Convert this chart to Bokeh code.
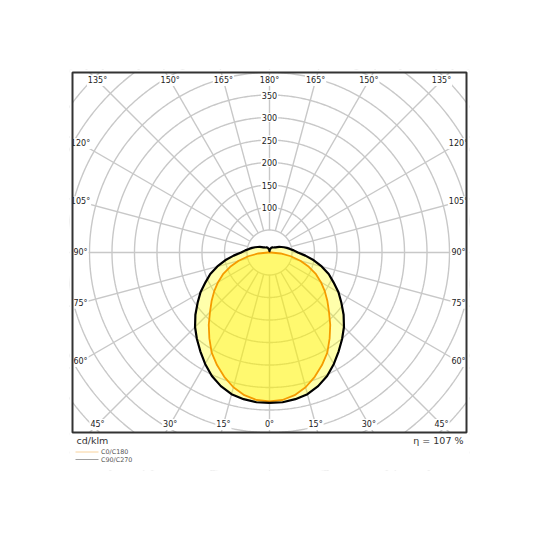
import numpy as np
from bokeh.plotting import figure
from bokeh.models import Range1d, ColumnDataSource
from bokeh.core.properties import value
from bokeh.embed import file_html
from bokeh.resources import INLINE

# ---- data (cd/klm), gamma angles in degrees, symmetric planes ----
gamma = list(range(0, 181, 5))
c0_c180 = [331, 329, 322, 310, 294, 276, 257, 233, 210, 187, 168, 150, 132, 114, 93, 71, 48, 25, 3,
           0, 0, 0, 0, 0, 0, 0, 0, 0, 0, 0, 0, 0, 0, 0, 0, 0, 0]
c90_c270 = [334, 334, 331, 326, 316, 303, 286, 268, 251, 234, 215, 195, 177, 157, 140, 120, 100, 80, 63,
            54, 46, 40, 34, 29, 25, 21, 18, 16, 14.5, 13.5, 13, 12, 11, 9, 7, 5, 3]
ring_values = [50, 100, 150, 200, 250, 300, 350, 400, 450, 500, 550, 600]
ring_labels = [100, 150, 200, 250, 300, 350]
angle_ticks = list(range(0, 181, 15))
efficiency = "η = 107 %"
unit = "cd/klm"
legend_names = ["C0/C180", "C90/C270"]
legend_colors = ["#f8d29c", "#a0a0a0"]

FONT = "DejaVu Sans"
S = 0.45            # px per cd/klm
CX, CY = 269, 252   # pixel position of the pole


def ux(px):
    return (px - CX) / S


def uy(py):
    return (CY - py) / S


# box (diagram) and frame (slightly larger, includes texts below)
BL, BR, BT, BB = ux(72), ux(466), uy(72), uy(432)
FL, FR, FT, FB = ux(69), ux(469), uy(69), uy(470)

p = figure(width=535, height=535, x_range=Range1d(FL, FR), y_range=Range1d(FB, FT),
           min_border_left=69, min_border_right=66, min_border_top=69, min_border_bottom=65,
           x_axis_location=None, y_axis_location=None, toolbar_location=None,
           output_backend="svg")
p.xgrid.visible = False
p.ygrid.visible = False
p.outline_line_color = None
p.background_fill_color = "white"
p.border_fill_color = "white"

GRID = "#c8c8c8"
t = np.linspace(0, 2 * np.pi, 721)
xs = [list(r * np.sin(t)) for r in ring_values]
ys = [list(r * np.cos(t)) for r in ring_values]
p.multi_line(xs, ys, line_color=GRID, line_width=1.4)
rmin, rmax = ring_values[0], 900
rx, ry = [], []
for a in range(0, 360, 15):
    th = np.radians(a)
    rx.append([rmin * np.sin(th), rmax * np.sin(th)])
    ry.append([rmin * np.cos(th), rmax * np.cos(th)])
p.multi_line(rx, ry, line_color=GRID, line_width=1.4)


def outline(vals):
    g = np.radians(np.array(gamma, dtype=float))
    v = np.array(vals, dtype=float)
    xr = v * np.sin(g)
    yr = -v * np.cos(g)
    x = np.concatenate([xr, -xr[::-1][1:]])
    y = np.concatenate([yr, yr[::-1][1:]])
    return list(x), list(y)


bx, by = outline(c90_c270)
ox, oy = outline(c0_c180)
p.patch(bx, by, fill_color="#ffff00", fill_alpha=0.33, line_color=None)
p.patch(ox, oy, fill_color="#ffee00", fill_alpha=0.35, line_color=None)
p.line(ox, oy, line_color="#f59b00", line_width=1.8, line_join="round")
p.line(bx, by, line_color="black", line_width=2.2, line_join="round")

# radial value labels
src_r = ColumnDataSource(dict(x=[0] * len(ring_labels), y=ring_labels, t=[str(v) for v in ring_labels]))
p.text(x="x", y="y", text="t", source=src_r, text_align="center", text_baseline="middle",
       text_font=value(FONT), text_font_size="8px", text_color="#222222",
       background_fill_color="white", padding=1)

# angle labels on an inset rectangle
IX, IY = ux(458), uy(80)
lx, ly, lt = [], [], []
for a in angle_ticks:
    sides = [1] if a in (0, 180) else [1, -1]
    for s in sides:
        th = np.radians(a)
        dx, dy = s * np.sin(th), -np.cos(th)
        cand = []
        if abs(dx) > 1e-9:
            cand.append(IX / abs(dx))
        if abs(dy) > 1e-9:
            cand.append(IY / abs(dy))
        tt = min(cand)
        lx.append(tt * dx)
        ly.append(tt * dy)
        lt.append(f"{a}°")
src_a = ColumnDataSource(dict(x=lx, y=ly, t=lt))
p.text(x="x", y="y", text="t", source=src_a, text_align="center", text_baseline="middle",
       text_font=value(FONT), text_font_size="8px", text_color="#222222",
       background_fill_color="white", padding=1)

# white strips outside the diagram box, then the box border
pad = 50
p.quad(left=[FL - pad, BR, FL - pad, FL - pad], right=[BL, FR + pad, FR + pad, FR + pad],
       bottom=[FB - pad, FB - pad, BT, FB - pad], top=[FT + pad, FT + pad, FT + pad, BB],
       fill_color="white", line_color=None)
p.quad(left=[BL], right=[BR], bottom=[BB], top=[BT], fill_color=None,
       line_color="#333333", line_width=2)

# texts below the box
p.text(x=[ux(76)], y=[uy(439.5)], text=[unit], text_align="left", text_baseline="middle",
       text_font=value(FONT), text_font_size="9.5px", text_color="#333333")
p.text(x=[ux(463)], y=[uy(439.5)], text=[efficiency], text_align="right", text_baseline="middle",
       text_font=value(FONT), text_font_size="9.5px", text_color="#333333")

# legend
leg_y = [uy(451.5), uy(459)]
p.segment(x0=[ux(75)] * 2, x1=[ux(98)] * 2, y0=leg_y, y1=leg_y, line_color=legend_colors, line_width=1)
p.text(x=[ux(100.5)] * 2, y=[uy(451.3), uy(459.5)], text=legend_names, text_align="left",
       text_baseline="middle", text_font=value(FONT), text_font_size="6.4px", text_color="#555555")

open("out.html", "w").write(file_html(p, INLINE))
